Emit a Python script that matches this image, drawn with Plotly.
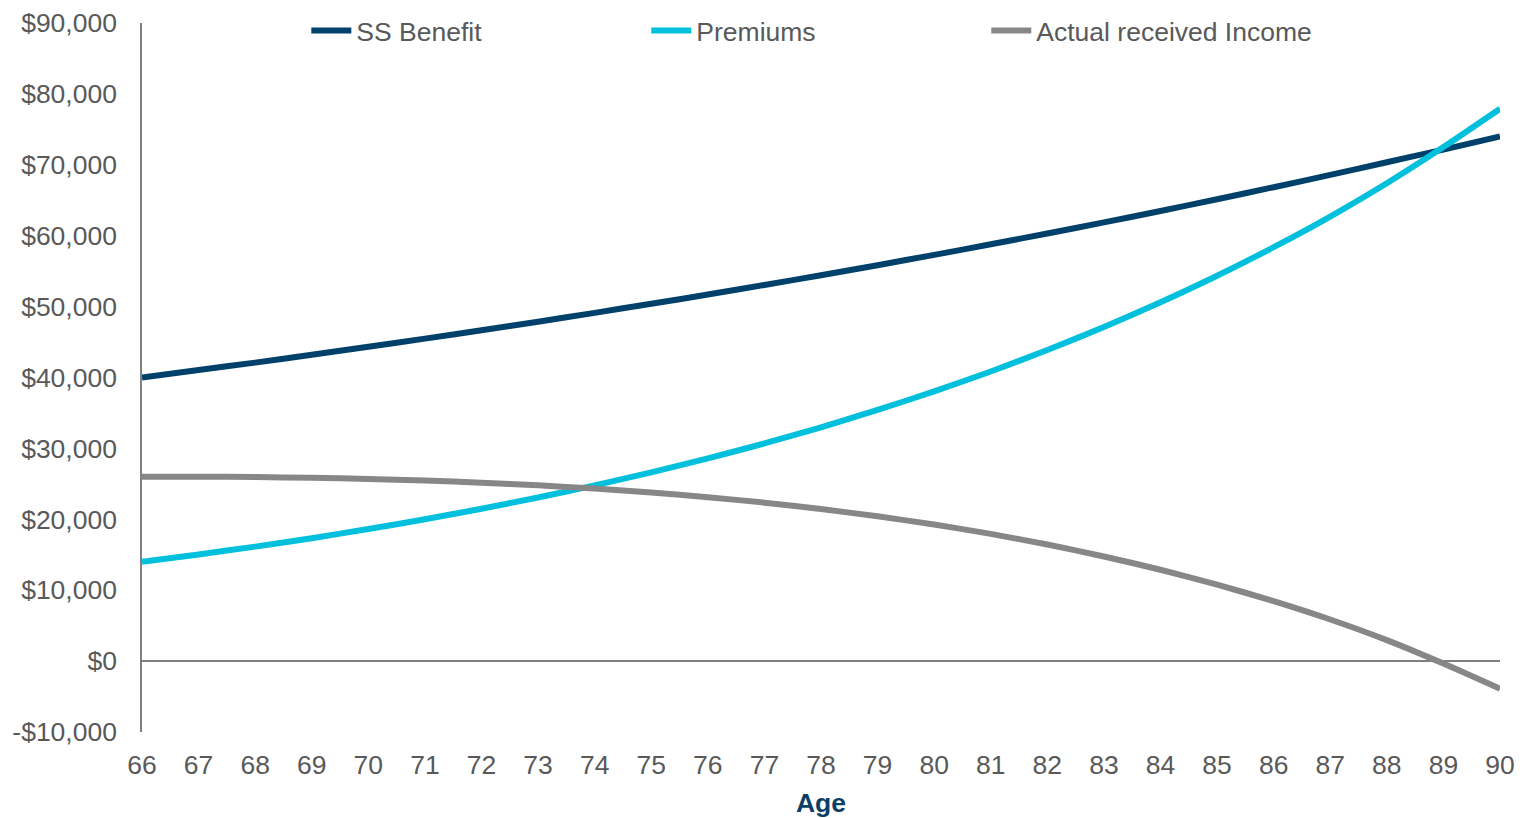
import plotly.graph_objects as go

ages = list(range(66, 91))
ss_benefit = [40000, 41050, 42100, 43200, 44330, 45480, 46660, 47870, 49120, 50400,
              51700, 53050, 54430, 55840, 57300, 58790, 60310, 61880, 63490, 65140,
              66840, 68570, 70360, 72150, 74000]
premiums = [14000, 15040, 16150, 17340, 18630, 20010, 21490, 23080, 24790, 26620,
            28590, 30700, 32980, 35420, 38040, 40850, 43870, 47120, 50610, 54350,
            58380, 62700, 67400, 72500, 77900]
actual_income = [26000, 26010, 25950, 25860, 25700, 25470, 25170, 24790, 24330, 23780,
                 23110, 22350, 21450, 20420, 19260, 17940, 16440, 14760, 12880, 10790,
                 8460, 5870, 2960, -350, -3900]

y_tickvals = [-10000, 0, 10000, 20000, 30000, 40000, 50000, 60000, 70000, 80000, 90000]
y_ticktext = ["-$10,000", "$0", "$10,000", "$20,000", "$30,000", "$40,000",
              "$50,000", "$60,000", "$70,000", "$80,000", "$90,000"]

series = [
    ("SS Benefit", ss_benefit, "#00416B"),
    ("Premiums", premiums, "#00C0DE"),
    ("Actual received Income", actual_income, "#878787"),
]

fig = go.Figure()
for name, vals, color in series:
    fig.add_trace(go.Scatter(
        x=ages, y=vals, name=name, mode="lines",
        line=dict(color=color, width=6, shape="spline", smoothing=0.6),
    ))

font_family = "Liberation Sans, Arial, sans-serif"
fs = 26.5

fig.update_layout(
    width=1525, height=818,
    margin=dict(l=134, r=33, t=15, b=94, autoexpand=False),
    paper_bgcolor="white", plot_bgcolor="white",
    font=dict(family=font_family, size=fs, color="#595959"),
    showlegend=True,
    legend=dict(
        orientation="h", x=0.121, xanchor="left", y=0.989, yanchor="middle",
        font=dict(size=fs, color="#595959"),
        entrywidth=285, entrywidthmode="pixels",
        bgcolor="rgba(0,0,0,0)", itemwidth=40,
    ),
    xaxis=dict(
        range=[66, 90], tickmode="array", tickvals=ages,
        ticktext=[str(a) for a in ages],
        showgrid=False, showline=False, zeroline=False, ticks="",
        ticklabelstandoff=14, automargin=False, ticklabeloverflow="allow",
        tickfont=dict(size=fs, color="#595959"),
        title=dict(text="<b>Age</b>", font=dict(size=fs, color="#0D3F66"), standoff=14),
    ),
    yaxis=dict(
        range=[-10000, 90000], tickmode="array", tickvals=y_tickvals,
        ticktext=y_ticktext,
        showgrid=False, showline=True, linecolor="#808080", linewidth=1.5,
        zeroline=True, zerolinecolor="#808080", zerolinewidth=1.5,
        ticks="", ticklabelstandoff=18, automargin=False, ticklabeloverflow="allow",
        tickfont=dict(size=fs, color="#595959"),
    ),
)

fig.write_html("out.html")
